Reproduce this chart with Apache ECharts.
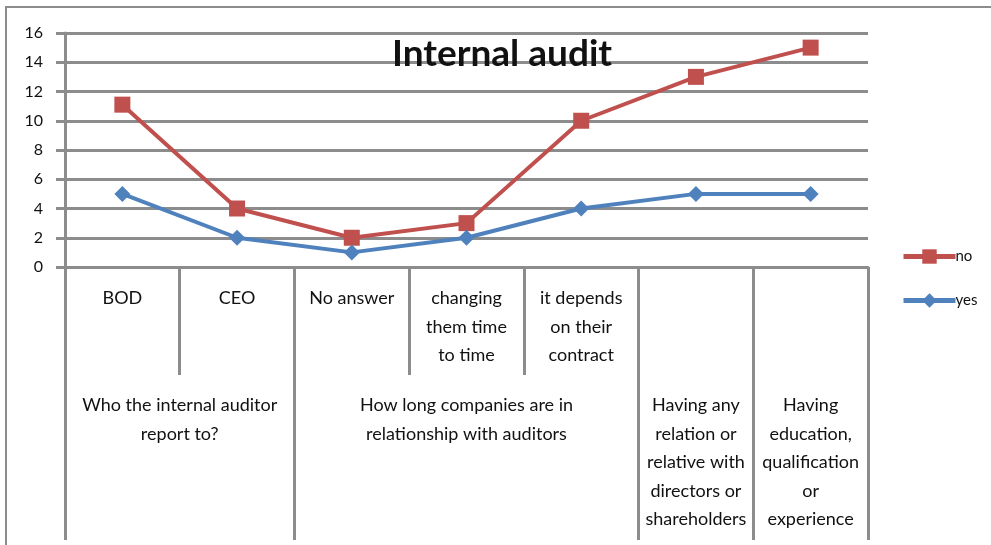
<!DOCTYPE html>
<html>
<head>
<meta charset="utf-8">
<script src="https://cdn.jsdelivr.net/npm/echarts@6/dist/echarts.min.js"></script>
<style>
html,body{margin:0;padding:0;background:#fff;}
#c{width:991px;height:545px;}
</style>
</head>
<body>
<div id="c"></div>
<script>
// ---- data ----
var categories = ['BOD', 'CEO', 'No answer', 'changing\nthem time\nto time', 'it depends\non their\ncontract', '', ''];
var groupLabels = ['Who the internal auditor\nreport to?', 'How long companies are in\nrelationship with auditors', 'Having any\nrelation or\nrelative with\ndirectors or\nshareholders', 'Having\neducation,\nqualification\nor\nexperience'];
var groupCenters = [1, 3.5, 5.5, 6.5];
var groupBounds = [0, 2, 5, 6, 7];
var innerBounds = [1, 3, 4];
var noValues = [11.1, 4, 2, 3, 10, 13, 15];
var yesValues = [5, 2, 1, 2, 4, 5, 5];
var yTicks = [0, 2, 4, 6, 8, 10, 12, 14, 16];

var GRAY = '#8c8c8c';
var FONT = 'Lato';
var chart = echarts.init(document.getElementById('c'));
chart.setOption({
  animation: false,
  backgroundColor: '#fff',
  title: {
    text: 'Internal audit',
    left: 387, top: 31,
    textStyle: {fontFamily: FONT, fontSize: 37, fontWeight: 'bold', color: '#111'}
  },
  legend: {
    orient: 'vertical', left: 896, top: 244,
    itemWidth: 52, itemHeight: 18, itemGap: 29,
    lineStyle: {width: 5},
    textStyle: {fontFamily: FONT, fontSize: 15, color: '#111', padding: [0,0,0,-5]},
    data: ['no', 'yes']
  },
  grid: {left: 65, right: 123, top: 33, bottom: 278, containLabel: false},
  xAxis: [
    {
      type: 'category', data: categories, boundaryGap: true,
      axisLine: {show: true, lineStyle: {color: GRAY, width: 3}},
      axisTick: {show: false},
      axisLabel: {interval: 0, margin: 17, fontFamily: FONT, fontSize: 18, lineHeight: 28.5, color: '#111'}
    },
    {
      type: 'value', min: 0, max: 7, position: 'bottom',
      axisLine: {show: false}, splitLine: {show: false},
      axisTick: {show: true, customValues: innerBounds, length: 108, lineStyle: {color: GRAY, width: 3}},
      axisLabel: {show: false}
    },
    {
      type: 'value', min: 0, max: 7, position: 'bottom',
      axisLine: {show: false}, splitLine: {show: false},
      axisTick: {show: true, customValues: groupBounds, length: 273, lineStyle: {color: GRAY, width: 3}},
      axisLabel: {
        show: true, customValues: groupCenters, margin: 124,
        fontFamily: FONT, fontSize: 18, lineHeight: 28.5, color: '#111',
        formatter: function (v) {
          var i = groupCenters.indexOf(v);
          return i >= 0 ? groupLabels[i] : '';
        }
      }
    }
  ],
  yAxis: {
    type: 'value', min: yTicks[0], max: yTicks[yTicks.length - 1], interval: 2,
    axisLine: {show: true, lineStyle: {color: GRAY, width: 3}},
    axisTick: {show: true, length: 9, lineStyle: {color: GRAY, width: 3}},
    splitLine: {show: true, lineStyle: {color: GRAY, width: 3}},
    axisLabel: {margin: 22, fontFamily: FONT, fontSize: 16, color: '#111'}
  },
  series: [
    {
      name: 'no', type: 'line', xAxisIndex: 0, data: noValues,
      symbol: 'rect', symbolSize: 16, color: '#C0504D',
      lineStyle: {width: 4, color: '#C0504D'}, itemStyle: {color: '#C0504D'}
    },
    {
      name: 'yes', type: 'line', xAxisIndex: 0, data: yesValues,
      symbol: 'diamond', symbolSize: 16, color: '#4F81BD',
      lineStyle: {width: 4, color: '#4F81BD'}, itemStyle: {color: '#4F81BD'}
    }
  ],
  graphic: [{
    type: 'polyline', silent: true,
    shape: {points: [[6, 545], [6, 7], [991, 7]]},
    style: {stroke: GRAY, lineWidth: 2, fill: null}
  }]
});
</script>
</body>
</html>
